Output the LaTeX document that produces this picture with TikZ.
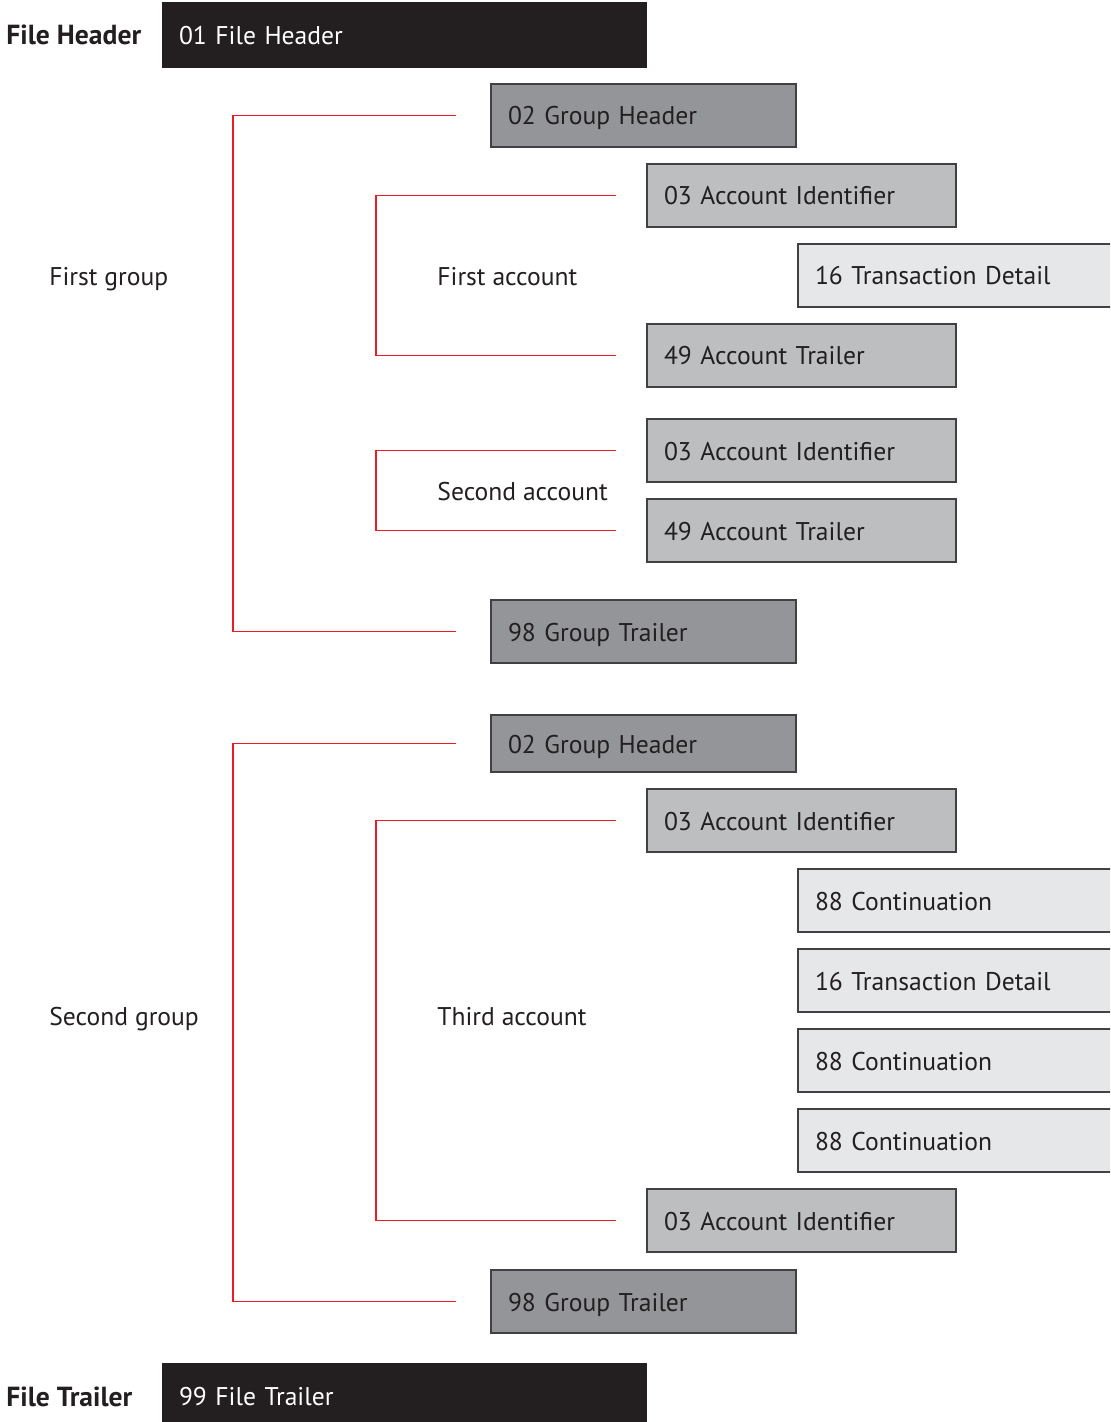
\documentclass[tikz,border=0pt]{standalone}
\usepackage{fontspec}
\setmainfont{PT Sans}
\usetikzlibrary{positioning}
\definecolor{ink}{HTML}{231F20}
\definecolor{grpfill}{HTML}{939598}
\definecolor{accfill}{HTML}{BCBEC0}
\definecolor{detfill}{HTML}{E6E7E8}
\definecolor{edge}{HTML}{414042}
\definecolor{brkred}{HTML}{ED1C24}
\tikzset{
  rec/.style={draw=edge, line width=1pt, anchor=north west, minimum height=31.5pt,
    inner xsep=8.5pt, inner ysep=0pt, align=left, text=ink,
    text height=11.5pt, text depth=2pt, font=\fontsize{12.8}{15}\selectfont},
  grp/.style={rec, fill=grpfill, text width=135.5pt},
  acc/.style={rec, fill=accfill, text width=137.5pt},
  det/.style={rec, fill=detfill, text width=153pt},
  filebox/.style={rec, draw=none, fill=ink, text=white, text width=225.5pt, minimum height=33pt},
  brk/.style={draw=brkred, line width=0.8pt},
  lbl/.style={anchor=west, inner sep=0pt, text=ink, text height=11.5pt, text depth=2pt,
    font=\fontsize{12.8}{15}\selectfont},
  hdr/.style={lbl, font=\fontsize{13.8}{16}\selectfont\bfseries}
}

\begin{document}
\begin{tikzpicture}[x=0.5pt, y=-0.5pt]
        \useasboundingbox (0,0) rectangle (1110,1422);
        \clip (0,0) rectangle (1110,1422);

        \node[filebox] (fh) at (161,1) {01 File Header};
        \node[hdr] (fhl) at (6,35) {File Header};

        \node[grp] (gh1) at (490,83) {02 Group Header};
        \node[acc] (ai1) at (646,163) {03 Account Identifier};
        \node[det] (td1) at (797,243) {16 Transaction Detail};
        \node[acc] (at1) at (646,323) {49 Account Trailer};
        \node[acc] (ai2) at (646,418) {03 Account Identifier};
        \node[acc] (at2) at (646,498) {49 Account Trailer};
        \node[grp] (gt1) at (490,599) {98 Group Trailer};

        \node[grp, minimum height=28.5pt] (gh2) at (490,714) {02 Group Header};
        \node[acc] (ai3) at (646,788) {03 Account Identifier};
        \node[det] (c1) at (797,868) {88 Continuation};
        \node[det] (td2) at (797,948) {16 Transaction Detail};
        \node[det] (c2) at (797,1028) {88 Continuation};
        \node[det] (c3) at (797,1108) {88 Continuation};
        \node[acc] (ai4) at (646,1188) {03 Account Identifier};
        \node[grp] (gt2) at (490,1269) {98 Group Trailer};

        \node[filebox] (ft) at (161,1362) {99 File Trailer};
        \node[hdr] (ftl) at (fhl.west |- 0,1397) {File Trailer};

        \node[lbl] (g1) at (49,276) {First group};
        \node[lbl] (a1) at (437,276) {First account};
        \node[lbl] (a2) at (437,491) {Second account};
        \node[lbl] (g2) at (49,1016) {Second group};
        \node[lbl] (a3) at (437,1016) {Third account};

        \coordinate (gx1) at (233,400);
        \coordinate (ax1) at (376,276);
        \coordinate (ax2) at (376,491);
        \coordinate (gx2) at (233,1016);
        \coordinate (ax3) at (376,1016);

        \draw[brk] ([xshift=-17pt]gh1.west) -| (gx1) |- ([xshift=-17pt]gt1.west);
        \draw[brk] ([xshift=-15pt]ai1.west) -| (ax1) |- ([xshift=-15pt]at1.west);
        \draw[brk] ([xshift=-15pt]ai2.west) -| (ax2) |- ([xshift=-15pt]at2.west);
        \draw[brk] ([xshift=-17pt]gh2.west) -| (gx2) |- ([xshift=-17pt]gt2.west);
        \draw[brk] ([xshift=-15pt]ai3.west) -| (ax3) |- ([xshift=-15pt]ai4.west);
\end{tikzpicture}
\end{document}
